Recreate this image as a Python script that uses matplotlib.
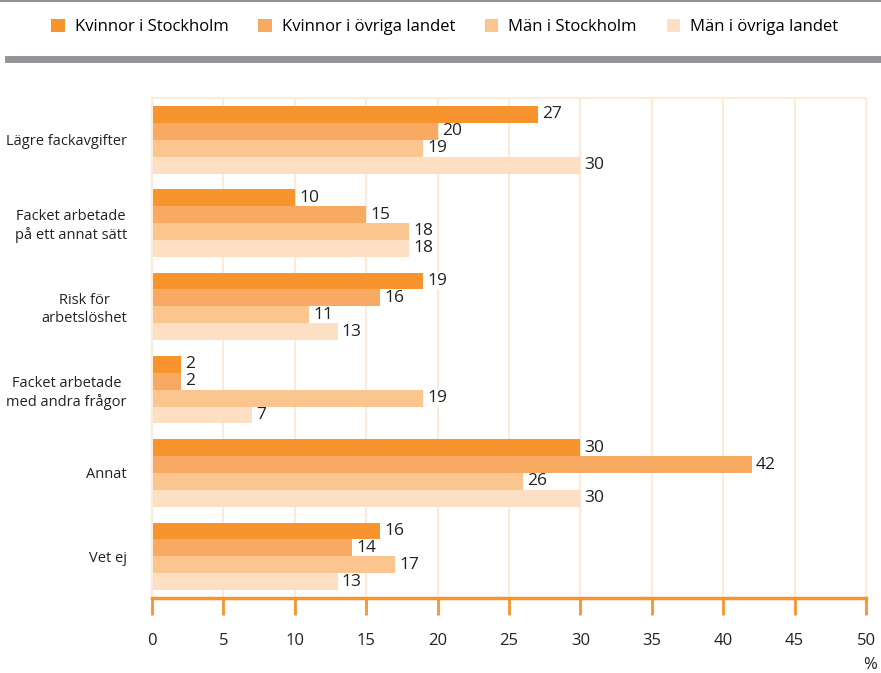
import numpy as np
import matplotlib.pyplot as plt
from matplotlib.patches import Patch
from matplotlib.lines import Line2D

plt.rcParams['font.family'] = ['Open Sans', 'DejaVu Sans']

categories = ['Lägre fackavgifter', 'Facket arbetade\npå ett annat sätt', 'Risk för\narbetslöshet',
              'Facket arbetade\nmed andra frågor', 'Annat', 'Vet ej']
series = ['Kvinnor i Stockholm', 'Kvinnor i övriga landet', 'Män i Stockholm', 'Män i övriga landet']
kvinnor_sthlm = [27, 10, 19, 2, 30, 16]
kvinnor_ovriga = [20, 15, 16, 2, 42, 14]
man_sthlm = [19, 18, 11, 19, 26, 17]
man_ovriga = [30, 18, 13, 7, 30, 13]
values = [kvinnor_sthlm, kvinnor_ovriga, man_sthlm, man_ovriga]
colors = ['#F7942E', '#F9AA62', '#FBC58F', '#FDE0C3']

fig = plt.figure(figsize=(8.81, 6.73), dpi=100)
ax = fig.add_axes([152/881, 1 - 598/673, 714/881, 500/673])

bh = 0.203
y0 = np.arange(len(categories)) + 0.5
for k, (vals, c) in enumerate(zip(values, colors)):
    ypos = y0 + (k - 1.5) * bh
    ax.barh(ypos, vals, height=bh, color=c, zorder=2)
    for y, v in zip(ypos, vals):
        ax.annotate(str(v), (v, y), xytext=(3, 0), textcoords='offset points',
                    va='center', ha='left', fontsize=12.5, color='#222222', zorder=3,
                    bbox=dict(facecolor='white', edgecolor='none', pad=0.3))

ax.set_xlim(0, 50)
ax.set_ylim(6, 0)
ax.set_xticks(np.arange(0, 51, 5))
ax.set_yticks(y0)
ax.set_yticklabels(categories, multialignment='center', fontsize=10.5, color='#222222')
ax.tick_params(axis='y', length=0, pad=18)
ax.tick_params(axis='x', direction='out', length=12, width=2, color='#F7942E',
               labelsize=12, labelcolor='#222222', pad=13)
ax.grid(axis='x', color='#FDEBDA', linewidth=1.5, zorder=0)
for s in ['left', 'top', 'right']:
    ax.spines[s].set_color('#FDEBDA')
    ax.spines[s].set_linewidth(1.5)
ax.spines['bottom'].set_color('#F7942E')
ax.spines['bottom'].set_linewidth(2.5)
ax.text(50.3, -0.134, '%', transform=ax.get_xaxis_transform(), ha='center', va='center',
        fontsize=12, color='#222222')

handles = [Patch(facecolor=c, edgecolor='none') for c in colors]
fig.legend(handles, series, loc='center', bbox_to_anchor=(0.505, 1 - 27/673), ncol=4,
           frameon=False, fontsize=12, handlelength=0.8, handleheight=0.8,
           handletextpad=0.6, columnspacing=1.8)

fig.add_artist(Line2D([8/881, 1], [1 - 59/673] * 2, color='#939598', linewidth=5))
fig.add_artist(Line2D([0, 1], [1 - 0.5/673] * 2, color='#939598', linewidth=1.5))

fig.savefig('out.png', dpi=100)
